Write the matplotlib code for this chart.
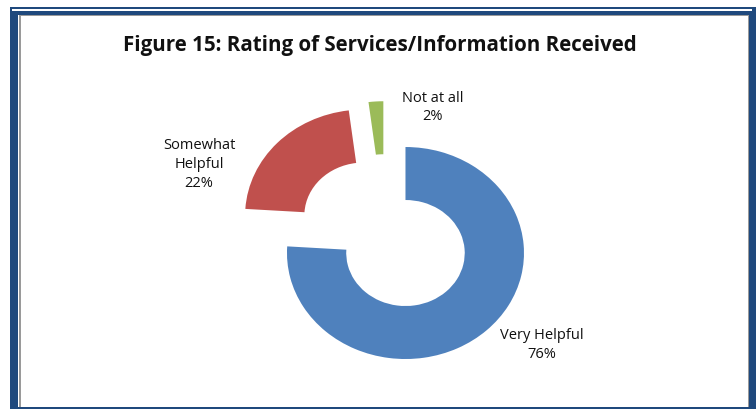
import matplotlib
matplotlib.use('agg')
import matplotlib.pyplot as plt
from matplotlib.patches import Rectangle

plt.rcParams.update({"font.family": ["Open Sans", "DejaVu Sans"]})

# data
categories = ["Very Helpful", "Somewhat\nHelpful", "Not at all"]
shares = [76, 22, 2]
colors = ["#4F81BD", "#C0504D", "#9BBB59"]
title = "Figure 15: Rating of Services/Information Received"

W, H = 756, 410
fig = plt.figure(figsize=(W / 100, H / 100), dpi=100)

def px(x0, y0, x1, y1, color):
    # rectangle given in pixel coords from top-left
    fig.add_artist(Rectangle((x0 / W, 1 - y1 / H), (x1 - x0) / W, (y1 - y0) / H,
                             transform=fig.transFigure, facecolor=color,
                             edgecolor='none', zorder=0))

# frame
px(10, 8, 756, 410, "#1F497D")
px(17.5, 16, 749, 408, "white")
px(12, 10.3, 752, 11.6, "white")
px(18.5, 16, 20.5, 408, "#9A9A9A")
px(18.5, 16, 749, 17, "#9A9A9A")
px(748, 16, 749, 408, "#9A9A9A")

# axes sized so the donut is a bit wider than tall, like the source
cx, cy = 385.2, 234.7
rx, ry = 118.5, 106.0
lim = 1.5
ax = fig.add_axes([(cx - lim * rx) / W, (H - cy - lim * ry) / H,
                   2 * lim * rx / W, 2 * lim * ry / H])
ax.pie(shares, colors=colors, startangle=90, counterclock=False,
       explode=[0.25] * len(shares), radius=1.0,
       wedgeprops=dict(width=0.5, edgecolor='none'))
ax.set_aspect('auto')
ax.set_xlim(-lim, lim)
ax.set_ylim(-lim, lim)
ax.axis('off')

label_pos = [(1.32, -1.04), (-1.57, 0.66), (0.40, 1.20)]
for name, v, (lx, ly) in zip(categories, shares, label_pos):
    ax.text(lx, ly, f"{name}\n{v}%", ha='center', va='center',
            fontsize=10.5, color='#111111', linespacing=1.35)

fig.text(380 / W, 1 - 46 / H, title, ha='center', va='center',
         fontsize=14.8, fontweight='bold', color='#111111')

fig.savefig("out.png", dpi=100)
